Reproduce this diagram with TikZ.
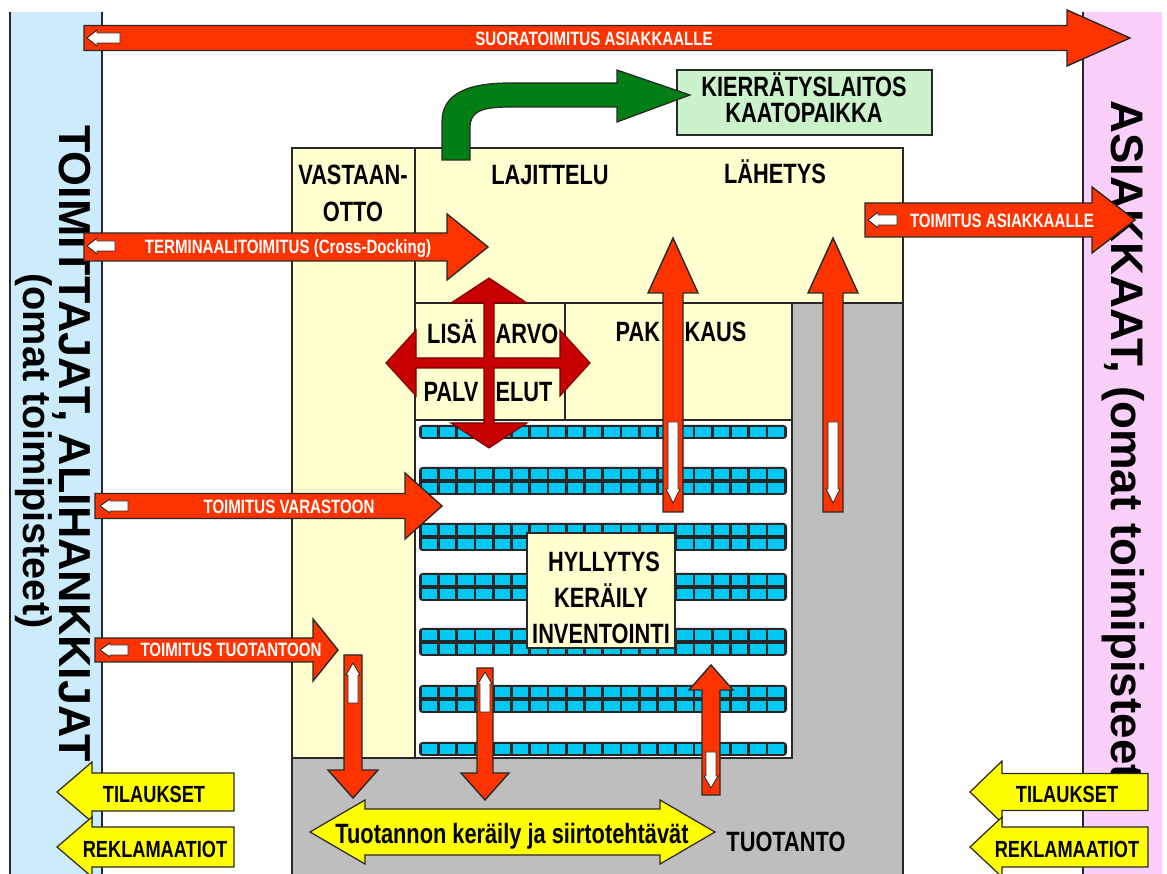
\documentclass[tikz,border=0pt]{standalone}
\usepackage{fontspec}
\setmainfont{Liberation Sans}
\newfontfamily\nbf[FakeStretch=0.78]{Liberation Sans}
\newfontfamily\vtD{Liberation Sans}
\definecolor{bandblue}{RGB}{204,236,252}
\definecolor{bandpink}{RGB}{250,208,250}
\definecolor{bldg}{RGB}{255,255,208}
\definecolor{greenbox}{RGB}{204,242,204}
\definecolor{garrow}{RGB}{0,128,20}
\definecolor{rarrow}{RGB}{255,51,0}
\definecolor{darkred}{RGB}{200,0,0}
\definecolor{shelf}{RGB}{0,200,240}
\definecolor{grayarea}{RGB}{190,190,190}
\definecolor{yarrow}{RGB}{255,255,0}
\definecolor{outline}{RGB}{40,40,40}
\newcommand\RArr[7]{\draw[#1] (#2,{#4-#5}) -- ({#3-#7},{#4-#5}) -- ({#3-#7},{#4-#6}) -- (#3,#4) -- ({#3-#7},{#4+#6}) -- ({#3-#7},{#4+#5}) -- (#2,{#4+#5}) -- cycle;}
\newcommand\LArr[7]{\draw[#1] (#3,{#4-#5}) -- ({#2+#7},{#4-#5}) -- ({#2+#7},{#4-#6}) -- (#2,#4) -- ({#2+#7},{#4+#6}) -- ({#2+#7},{#4+#5}) -- (#3,{#4+#5}) -- cycle;}
\newcommand\UArr[7]{\draw[#1] ({#2-#5},#4) -- ({#2-#5},{#3+#7}) -- ({#2-#6},{#3+#7}) -- (#2,#3) -- ({#2+#6},{#3+#7}) -- ({#2+#5},{#3+#7}) -- ({#2+#5},#4) -- cycle;}
\newcommand\DArr[7]{\draw[#1] ({#2-#5},#3) -- ({#2-#5},{#4-#7}) -- ({#2-#6},{#4-#7}) -- (#2,#4) -- ({#2+#6},{#4-#7}) -- ({#2+#5},{#4-#7}) -- ({#2+#5},#3) -- cycle;}
\tikzset{
  bline/.style={draw=outline, line width=1pt},
  redarr/.style={fill=rarrow, draw=outline, line width=0.8pt, line join=miter},
  whitearr/.style={fill=white, draw=outline, line width=0.5pt},
  yarr/.style={fill=yarrow, draw=outline, line width=0.7pt, line join=miter},
  lbl/.style={font={\nbf\bfseries\fontsize{15.9}{17}\selectfont}, inner sep=0pt, anchor=base},
  rlbl/.style={font={\nbf\bfseries\fontsize{11}{12}\selectfont}, text=white, inner sep=0pt, anchor=base},
  ylbl/.style={font={\nbf\bfseries\fontsize{13.3}{14}\selectfont}, inner sep=0pt, anchor=base},
  vlbl/.style={rotate=-90, anchor=base west, inner sep=0pt},
}
\begin{document}
\begin{tikzpicture}[x=0.02cm, y=-0.02cm]
\useasboundingbox (0,0) rectangle (1167,874);
% side bands
\fill[bandblue] (10,12) rectangle (102,874);
\draw[bline] (10,12) -- (10,874);
\draw[bline] (102,12) -- (102,874);
\fill[bandpink] (1083,12) rectangle (1162,874);
\draw[bline] (1083,12) -- (1083,874);
% vertical texts
\node[vlbl, font={\vtD\bfseries\fontsize{25.5}{27}\selectfont}] (suppl) at (59,125) {TOIMITTAJAT, ALIHANKKIJAT};
\node[vlbl, font={\vtD\bfseries\fontsize{22.6}{24}\selectfont}] (supplown) at (24,273) {(omat toimipisteet)};
\node[vlbl, font={\vtD\bfseries\fontsize{26}{28}\selectfont}] (cust) at (1111,100) {ASIAKKAAT, (omat toimipisteet)};
% building
\fill[bldg] (292,148) rectangle (903,303);
\fill[bldg] (292,303) rectangle (415,758);
\fill[bldg] (415,303) rectangle (792,420);
\fill[grayarea] (292,758) rectangle (903,874);
\fill[grayarea] (792,303) rectangle (903,758);
\fill[white] (415,420) rectangle (792,758);
\draw[bline] (292,874) -- (292,148) -- (903,148) -- (903,874);
\draw[bline] (415,148) -- (415,758);
\draw[bline] (415,303) -- (903,303);
\draw[bline] (292,758) -- (792,758) -- (792,303);
\draw[bline] (415,420) -- (792,420);
\draw[bline] (489,303) -- (489,420);
\draw[bline] (415,363) -- (565,363);
\draw[bline] (565,303) -- (565,420);
% shelves
\foreach \yy/\nn in {425/1,467/2,523/2,573/2,628/2,685/2,742/1}{
  \fill[black!85, rounded corners=2pt] (419,\yy) rectangle (787,{\yy+14*\nn});
  \foreach \ii in {0,...,19}{
    \foreach \rr in {1,...,\nn}{
      \fill[shelf] ({421.5+\ii*18.25},{\yy+14*(\rr-1)+1.8}) rectangle ({421.5+\ii*18.25+15.5},{\yy+14*\rr-1.8});
    }
  }
}
% storage label box
\draw[fill=bldg, draw=outline, line width=0.8pt] (527,533) rectangle (675,648);
% recycling box
\draw[fill=greenbox, draw=outline, line width=1pt] (677,70) rectangle (932,135);
% green arrow
\draw[fill=garrow, draw=outline, line width=0.7pt, line join=miter]
  (442,160) -- (442,122) .. controls (442,95) and (465,83) .. (510,83) -- (617,83) -- (617,70) -- (690,95)
  -- (617,122) -- (617,107) -- (510,107) .. controls (480,107) and (470,112) .. (470,128) -- (470,160) -- cycle;
% four-way arrow (value added services)
\draw[fill=darkred, draw=darkred!60!black, line width=0.6pt, line join=miter]
  (489,278) -- (527,303) -- (494,303) -- (494,358) -- (560,358) -- (560,330) -- (590,363) -- (560,396)
  -- (560,368) -- (494,368) -- (494,423) -- (527,423) -- (489,448) -- (451,423) -- (484,423) -- (484,368)
  -- (416,368) -- (416,396) -- (386,363) -- (416,330) -- (416,358) -- (484,358) -- (484,303) -- (451,303) -- cycle;
% horizontal red arrows
\RArr{redarr}{84}{1130}{38}{12.5}{28}{63}
\LArr{whitearr}{87}{120}{38}{5}{8}{10}
\RArr{redarr}{84}{488}{247}{14}{33}{41}
\LArr{whitearr}{87}{115}{246}{5}{8}{10}
\RArr{redarr}{865}{1135}{220}{17}{33}{43}
\LArr{whitearr}{868}{897}{220}{5}{8}{10}
\RArr{redarr}{95}{442}{506}{12.5}{33}{37}
\LArr{whitearr}{100}{128}{506}{5}{7}{10}
\RArr{redarr}{95}{338}{650}{12}{31}{25}
\LArr{whitearr}{100}{128}{650}{5}{7}{10}
% vertical red arrows
\UArr{redarr}{673}{238}{512}{10}{25}{55}
\DArr{whitearr}{673}{422}{503}{5}{7}{14}
\UArr{redarr}{833}{238}{512}{10}{25}{55}
\DArr{whitearr}{833}{422}{503}{5}{7}{14}
\DArr{redarr}{353}{655}{798}{9}{25}{28}
\UArr{whitearr}{353}{663}{703}{5}{7}{12}
\DArr{redarr}{485}{668}{800}{8}{24}{27}
\UArr{whitearr}{485}{672}{712}{5}{7}{12}
\UArr{redarr}{711}{665}{795}{9}{22}{25}
\DArr{whitearr}{711}{752}{788}{5}{7}{12}
% yellow arrows
\LArr{yarr}{57}{234}{792}{19}{30}{35}
\LArr{yarr}{57}{234}{847}{20}{30}{35}
\LArr{yarr}{970}{1148}{792}{18.5}{31}{32}
\LArr{yarr}{970}{1148}{847}{20}{30}{32}
\draw[yarr] (310,832) -- (365,800) -- (365,809) -- (660,809) -- (660,800) -- (715,832) -- (660,864)
  -- (660,855) -- (365,855) -- (365,864) -- cycle;
% labels on red arrows
\node[rlbl] (t1) at (594,46) {SUORATOIMITUS ASIAKKAALLE};
\node[rlbl] (t2) at (288,254) {TERMINAALITOIMITUS (Cross-Docking)};
\node[rlbl] (t3) at (1002,228) {TOIMITUS ASIAKKAALLE};
\node[rlbl] (t4) at (289,514) {TOIMITUS VARASTOON};
\node[rlbl] (t5) at (231,657) {TOIMITUS TUOTANTOON};
% area labels
\node[lbl] (v1) at (353,185) {VASTAAN-};
\node[lbl] (v2) at (353,222) {OTTO};
\node[lbl] (laj) at (550,185) {LAJITTELU};
\node[lbl] (lah) at (775,184) {LÄHETYS};
\node[lbl] (k1) at (804,97) {KIERRÄTYSLAITOS};
\node[lbl] (k2) at (804,123) {KAATOPAIKKA};
\node[lbl] (lisa) at (452,344) {LISÄ};
\node[lbl] (arvo) at (527,344) {ARVO};
\node[lbl] (palv) at (451,402) {PALV};
\node[lbl] (elut) at (524,402) {ELUT};
\node[lbl] (pak) at (681,342) {PAK\hspace{14pt}KAUS};
\node[lbl] (h1) at (604,572) {HYLLYTYS};
\node[lbl] (h2) at (601,608) {KERÄILY};
\node[lbl] (h3) at (601,644) {INVENTOINTI};
\node[lbl] (tuo) at (512,843) {Tuotannon keräily ja siirtotehtävät};
\node[lbl] (tuotanto) at (786,851) {TUOTANTO};
\node[ylbl] (til1) at (154,803) {TILAUKSET};
\node[ylbl] (rek1) at (155,857) {REKLAMAATIOT};
\node[ylbl] (til2) at (1067,803) {TILAUKSET};
\node[ylbl] (rek2) at (1067,857) {REKLAMAATIOT};
\end{tikzpicture}
\end{document}
